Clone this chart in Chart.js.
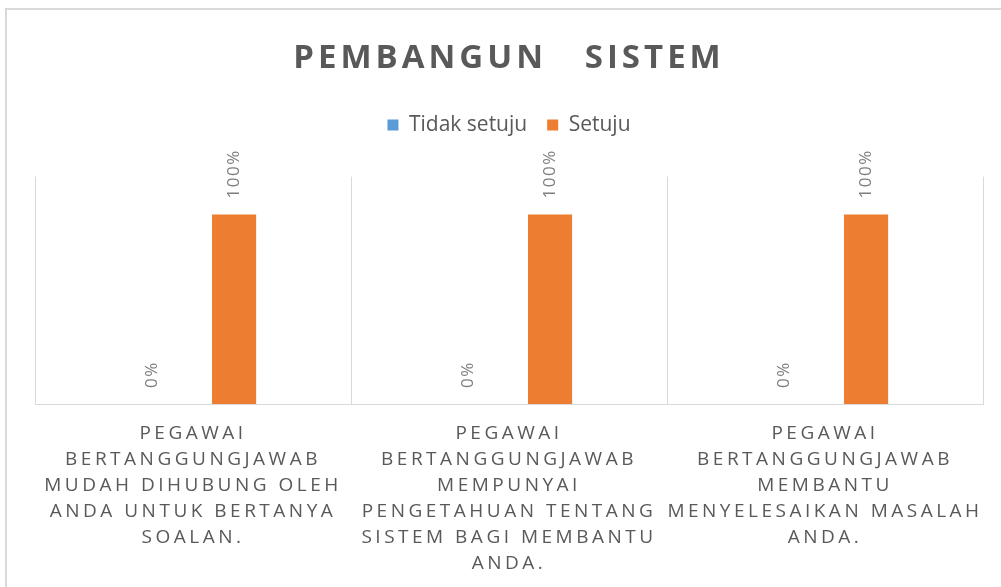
<!DOCTYPE html>
<html>
<head>
<meta charset="utf-8">
<script src="https://cdn.jsdelivr.net/npm/chart.js@4/dist/chart.umd.min.js"></script>
<style>
  html, body { margin: 0; padding: 0; background: #fff; overflow: hidden; }
  #frame { position: absolute; left: 5px; top: 8px; width: 1100px; height: 700px;
           border-left: 2px solid #d9d9d9; border-top: 2px solid #d9d9d9; }
  #wrap { position: absolute; left: 0; top: 0; width: 1001px; height: 587px; }
</style>
</head>
<body>
<div id="frame"></div>
<div id="wrap"><canvas id="chart"></canvas></div>
<script>
// data
const categories = [
  ["PEGAWAI", "BERTANGGUNGJAWAB", "MUDAH DIHUBUNG OLEH", "ANDA UNTUK BERTANYA", "SOALAN."],
  ["PEGAWAI", "BERTANGGUNGJAWAB", "MEMPUNYAI", "PENGETAHUAN TENTANG", "SISTEM BAGI MEMBANTU", "ANDA."],
  ["PEGAWAI", "BERTANGGUNGJAWAB", "MEMBANTU", "MENYELESAIKAN MASALAH", "ANDA."]
];
const seriesNames = ["Tidak setuju", "Setuju"];
const tidakSetuju = [0, 0, 0];
const setuju = [100, 100, 100];

const GRAY = "#595959";
const FONT = "'Open Sans', 'DejaVu Sans', sans-serif";

// letter spacing for the pieces drawn by Chart.js (canvas letterSpacing)
function spaced(obj, method, sp) {
  if (!obj || obj["_sp_" + method]) return;
  const orig = obj[method];
  obj[method] = function (...args) {
    const ctx = this.ctx;
    ctx.save();
    ctx.letterSpacing = sp;
    orig.apply(this, args);
    ctx.restore();
  };
  obj["_sp_" + method] = true;
}

const layoutTweaks = {
  id: "layoutTweaks",
  afterInit(chart) {
    // extra room between legend and plot area
    const legend = chart.legend;
    const fit = legend.fit;
    legend.fit = function () {
      fit.call(this);
      this.height += 31;
    };
  },
  afterLayout(chart) {
    spaced(chart.titleBlock, "draw", "4px");
    spaced(chart.scales.x, "drawLabels", "3.5px");
  }
};

// rotated value labels above each bar
const valueLabels = {
  id: "valueLabels",
  afterDatasetsDraw(chart) {
    const ctx = chart.ctx;
    ctx.save();
    ctx.font = "17px " + FONT;
    ctx.fillStyle = "#7f7f7f";
    ctx.letterSpacing = "1.5px";
    ctx.textAlign = "left";
    ctx.textBaseline = "middle";
    chart.data.datasets.forEach((ds, i) => {
      chart.getDatasetMeta(i).data.forEach((bar, j) => {
        ctx.save();
        ctx.translate(bar.x, bar.y - 16);
        ctx.rotate(-Math.PI / 2);
        ctx.fillText(ds.data[j] + "%", 0, 0);
        ctx.restore();
      });
    });
    ctx.restore();
  }
};

new Chart(document.getElementById("chart"), {
  type: "bar",
  data: {
    labels: categories,
    datasets: [
      { label: seriesNames[0], data: tidakSetuju, backgroundColor: "#5b9bd5" },
      { label: seriesNames[1], data: setuju, backgroundColor: "#ed7d31" }
    ]
  },
  options: {
    responsive: true,
    maintainAspectRatio: false,
    animation: false,
    categoryPercentage: 0.52,
    barPercentage: 0.537,
    layout: { padding: { left: 35, right: 18, top: 0, bottom: -7 } },
    plugins: {
      tooltip: { enabled: false },
      title: {
        display: true,
        text: "PEMBANGUN   SISTEM",
        color: GRAY,
        font: { family: FONT, size: 33, weight: "bold" },
        padding: { top: 39, bottom: 16 }
      },
      legend: {
        position: "top",
        labels: {
          color: GRAY,
          font: { family: FONT, size: 21 },
          boxWidth: 11,
          boxHeight: 11,
          padding: 20
        }
      }
    },
    scales: {
      x: {
        grid: { color: "#d9d9d9", lineWidth: 1, drawTicks: false, offset: true },
        border: { color: "#d9d9d9" },
        ticks: {
          color: GRAY,
          font: { family: FONT, size: 19, lineHeight: 26 / 19 },
          padding: 17,
          maxRotation: 0,
          autoSkip: false
        }
      },
      y: { display: false, min: 0, max: 120 }
    }
  },
  plugins: [layoutTweaks, valueLabels]
});
</script>
</body>
</html>
